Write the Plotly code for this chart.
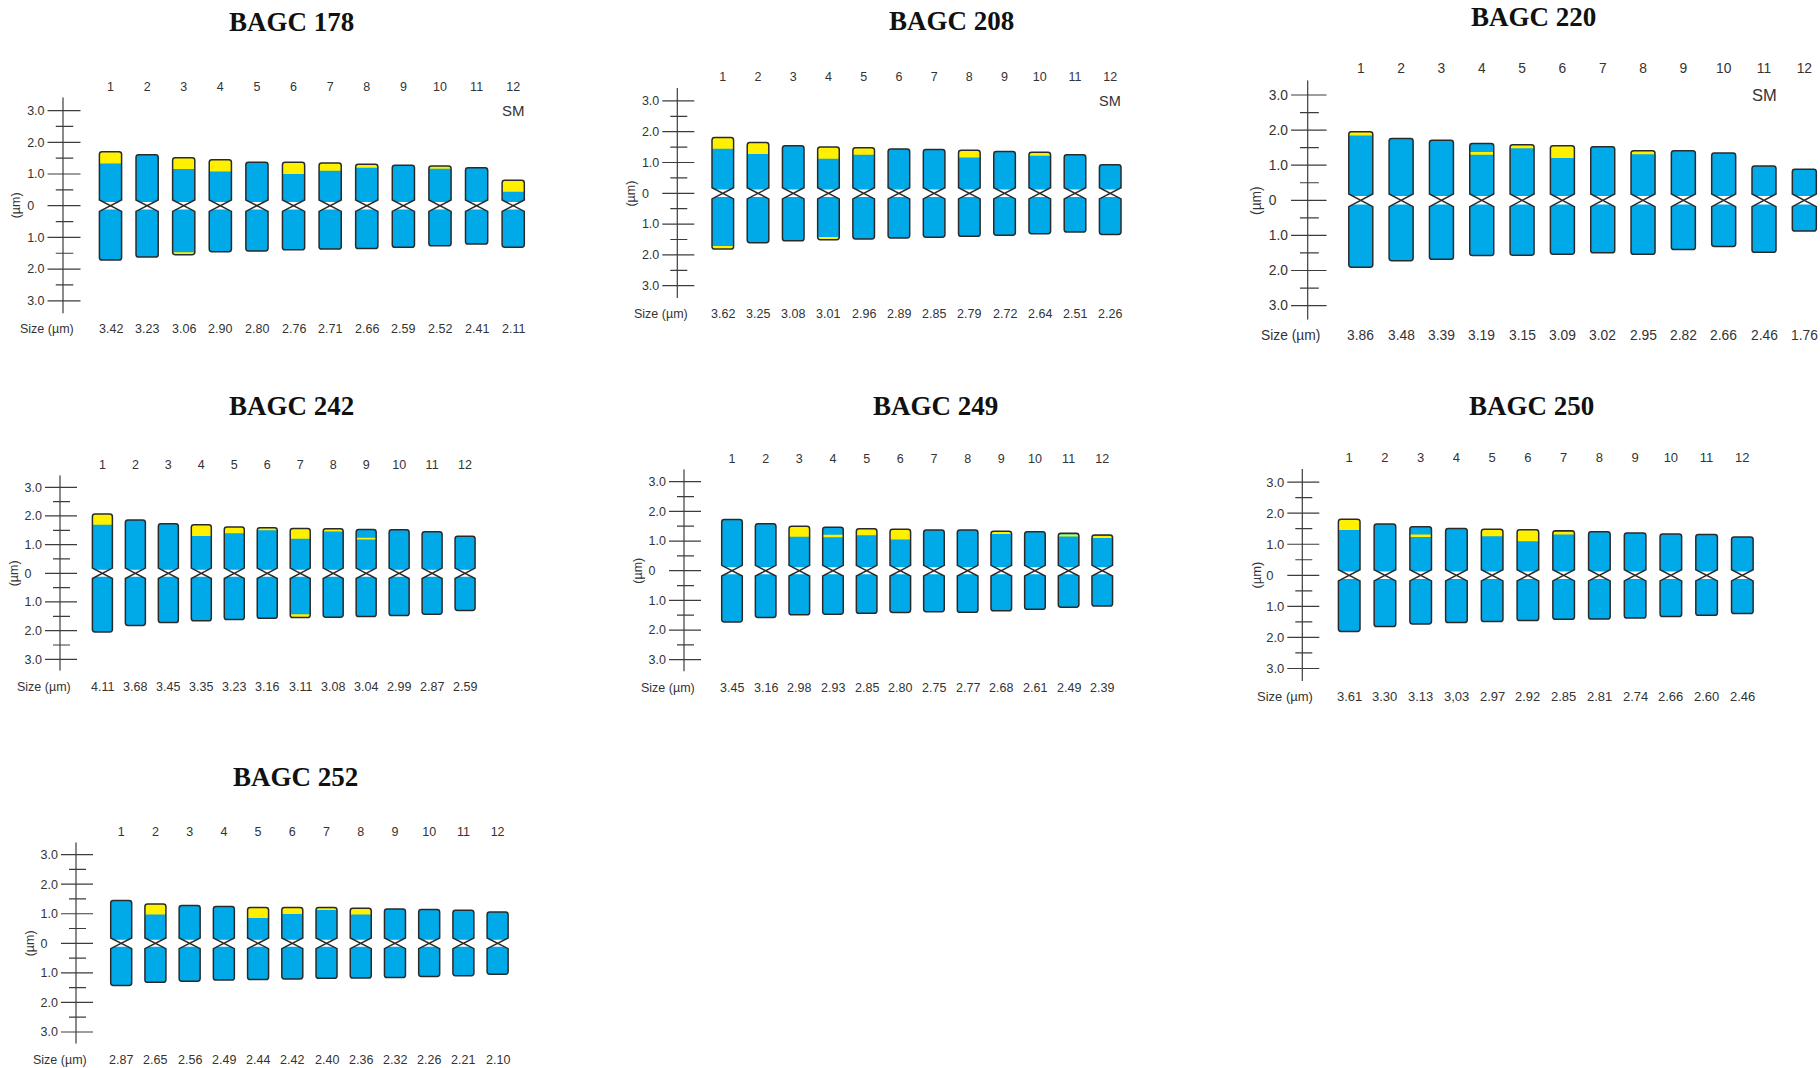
import plotly.graph_objects as go

W, H = 1820, 1068

# ---------------- karyotype data (µm) ----------------
# size labels, measured short-arm (p) and long-arm (q) lengths,
# and CMA+ bands as (chromosome, arm, distance from telomere to band start, to band end)

SIZE_178 = ["3.42", "3.23", "3.06", "2.90", "2.80", "2.76", "2.71", "2.66", "2.59", "2.52", "2.41", "2.11"]
P_178 = [1.68, 1.58, 1.49, 1.43, 1.36, 1.35, 1.33, 1.29, 1.25, 1.24, 1.18, 0.79]
Q_178 = [1.69, 1.59, 1.52, 1.43, 1.41, 1.37, 1.35, 1.33, 1.28, 1.25, 1.19, 1.29]
BANDS_178 = [(1, "p", 0, 0.37), (3, "p", 0, 0.36), (3, "q", 0, 0.08), (4, "p", 0, 0.37),
             (6, "p", 0, 0.37), (7, "p", 0, 0.24), (8, "p", 0, 0.11), (10, "p", 0, 0.09),
             (12, "p", 0, 0.36)]
SM_178 = 12

SIZE_208 = ["3.62", "3.25", "3.08", "3.01", "2.96", "2.89", "2.85", "2.79", "2.72", "2.64", "2.51", "2.26"]
P_208 = [1.79, 1.63, 1.52, 1.50, 1.44, 1.42, 1.41, 1.38, 1.33, 1.32, 1.24, 0.90]
Q_208 = [1.79, 1.59, 1.52, 1.50, 1.44, 1.43, 1.41, 1.38, 1.33, 1.30, 1.25, 1.30]
BANDS_208 = [(1, "p", 0, 0.36), (1, "q", 0, 0.10), (2, "p", 0, 0.37), (4, "p", 0, 0.38),
             (4, "q", 0, 0.09), (5, "p", 0, 0.23), (8, "p", 0, 0.23), (10, "p", 0, 0.11)]
SM_208 = 12

SIZE_220 = ["3.86", "3.48", "3.39", "3.19", "3.15", "3.09", "3.02", "2.95", "2.82", "2.66", "2.46", "1.76"]
P_220 = [1.94, 1.74, 1.69, 1.60, 1.57, 1.53, 1.50, 1.41, 1.40, 1.32, 0.96, 0.87]
Q_220 = [1.89, 1.70, 1.66, 1.56, 1.55, 1.51, 1.47, 1.54, 1.39, 1.29, 1.45, 0.86]
BANDS_220 = [(1, "p", 0, 0.11), (4, "p", 0.24, 0.32), (5, "p", 0, 0.10), (6, "p", 0, 0.35),
             (8, "p", 0, 0.10)]
SM_220 = 11

SIZE_242 = ["4.11", "3.68", "3.45", "3.35", "3.23", "3.16", "3.11", "3.08", "3.04", "2.99", "2.87", "2.59"]
P_242 = [2.03, 1.84, 1.71, 1.69, 1.59, 1.57, 1.55, 1.53, 1.51, 1.49, 1.42, 0.99]
Q_242 = [2.01, 1.80, 1.70, 1.65, 1.59, 1.55, 1.53, 1.51, 1.49, 1.45, 1.40, 0.99]
BANDS_242 = [(1, "p", 0, 0.37), (4, "p", 0, 0.39), (5, "p", 0, 0.22), (6, "p", 0, 0.09),
             (7, "p", 0, 0.36), (7, "q", 0, 0.12), (8, "p", 0, 0.09), (9, "p", 0.29, 0.35)]

SIZE_249 = ["3.45", "3.16", "2.98", "2.93", "2.85", "2.80", "2.75", "2.77", "2.68", "2.61", "2.49", "2.39"]
P_249 = [1.70, 1.56, 1.47, 1.44, 1.40, 1.37, 1.37, 1.35, 1.31, 1.28, 1.24, 1.18]
Q_249 = [1.70, 1.55, 1.46, 1.44, 1.42, 1.38, 1.38, 1.38, 1.33, 1.27, 1.21, 1.17]
BANDS_249 = [(3, "p", 0, 0.35), (4, "p", 0.25, 0.34), (5, "p", 0, 0.22), (6, "p", 0, 0.34),
             (9, "p", 0, 0.09), (11, "p", 0.04, 0.11), (12, "p", 0.03, 0.10)]

SIZE_250 = ["3.61", "3.30", "3.13", "3,03", "2.97", "2.92", "2.85", "2.81", "2.74", "2.66", "2.60", "2.46"]
P_250 = [1.78, 1.62, 1.51, 1.48, 1.46, 1.45, 1.43, 1.37, 1.33, 1.30, 1.28, 1.20]
Q_250 = [1.78, 1.62, 1.51, 1.49, 1.47, 1.44, 1.41, 1.38, 1.34, 1.30, 1.26, 1.20]
BANDS_250 = [(1, "p", 0, 0.35), (3, "p", 0.25, 0.33), (5, "p", 0, 0.22), (6, "p", 0, 0.37),
             (7, "p", 0.04, 0.12)]

SIZE_252 = ["2.87", "2.65", "2.56", "2.49", "2.44", "2.42", "2.40", "2.36", "2.32", "2.26", "2.21", "2.10"]
P_252 = [1.43, 1.32, 1.26, 1.23, 1.21, 1.21, 1.21, 1.17, 1.15, 1.10, 1.10, 1.04]
Q_252 = [1.41, 1.31, 1.26, 1.23, 1.22, 1.20, 1.18, 1.16, 1.15, 1.08, 1.08, 1.03]
BANDS_252 = [(2, "p", 0, 0.36), (5, "p", 0, 0.36), (6, "p", 0, 0.22), (7, "p", 0, 0.09),
             (8, "p", 0, 0.21)]

# ---------------- styling ----------------
BLUE = "#00a9e8"
YELLOW = "#fff000"
EDGE = "#2a2a2a"
RULE = "#3c3c3c"
TEXT = "#333333"
SANS = "Liberation Sans, Arial, sans-serif"
SERIF = "Liberation Serif, Times New Roman, serif"

RULER_TOP, RULER_BOT = 3.42, -3.40
CEN, CEN_FILL = 0.18, 0.12          # centromere constriction (µm)
MAJOR = [3, 2, 1, 0, -1, -2, -3]
MINOR = [2.5, 1.5, 0.5, -0.5, -1.5, -2.5]
FIG_SP = "\u2007"                    # digit-width space
PUNC_SP = "\u2008"                   # period-width space

# panel placement in pixels: first-chromosome centre, spacing, zero line, px per µm,
# ruler x, half chromosome width, horizontal stretch of ruler furniture, title centre, font sizes
PANELS = [
    dict(title="BAGC 178", size=SIZE_178, p=P_178, q=Q_178, bands=BANDS_178, sm=SM_178,
         c1=110.5, step=36.61, zero=205.7, unit=31.7, ruler=63.0, hw=11.1, xk=1.03,
         tpos=(291, 22), fs=12.5, sm_fs=15),
    dict(title="BAGC 208", size=SIZE_208, p=P_208, q=Q_208, bands=BANDS_208, sm=SM_208,
         c1=722.8, step=35.22, zero=193.3, unit=30.8, ruler=677.3, hw=10.8, xk=1.0,
         tpos=(951, 21), fs=12.5, sm_fs=14.5),
    dict(title="BAGC 220", size=SIZE_220, p=P_220, q=Q_220, bands=BANDS_220, sm=SM_220,
         c1=1360.8, step=40.32, zero=200.3, unit=35.1, ruler=1307.7, hw=12.0, xk=1.11,
         tpos=(1533, 17), fs=13.8, sm_fs=16.5),
    dict(title="BAGC 242", size=SIZE_242, p=P_242, q=Q_242, bands=BANDS_242, sm=None,
         c1=102.4, step=32.97, zero=573.3, unit=28.67, ruler=60, hw=10.0, xk=1.0,
         tpos=(291, 406), fs=12.5, sm_fs=15),
    dict(title="BAGC 249", size=SIZE_249, p=P_249, q=Q_249, bands=BANDS_249, sm=None,
         c1=732.0, step=33.66, zero=570.7, unit=29.67, ruler=684, hw=10.3, xk=1.0,
         tpos=(936, 406), fs=12.5, sm_fs=15),
    dict(title="BAGC 250", size=SIZE_250, p=P_250, q=Q_250, bands=BANDS_250, sm=None,
         c1=1349.2, step=35.74, zero=575.3, unit=31.07, ruler=1302.3, hw=10.8, xk=1.0,
         tpos=(1531, 406), fs=13, sm_fs=15),
    dict(title="BAGC 252", size=SIZE_252, p=P_252, q=Q_252, bands=BANDS_252, sm=None,
         c1=121.2, step=34.22, zero=943.3, unit=29.56, ruler=76, hw=10.5, xk=1.0,
         tpos=(295, 777), fs=12.5, sm_fs=15),
]


def f(v):
    return f"{v:.4f}"


def box_path(L, R, lo, hi, rx, ry, round_top, round_bot):
    d = f"M{f(L)},{f(lo + ry if round_bot else lo)} L{f(L)},{f(hi - ry if round_top else hi)}"
    if round_top:
        d += f" Q{f(L)},{f(hi)} {f(L + rx)},{f(hi)} L{f(R - rx)},{f(hi)} Q{f(R)},{f(hi)} {f(R)},{f(hi - ry)}"
    else:
        d += f" L{f(R)},{f(hi)}"
    d += f" L{f(R)},{f(lo + ry if round_bot else lo)}"
    if round_bot:
        d += f" Q{f(R)},{f(lo)} {f(R - rx)},{f(lo)} L{f(L + rx)},{f(lo)} Q{f(L)},{f(lo)} {f(L)},{f(lo + ry)}"
    else:
        d += f" L{f(L)},{f(lo)}"
    return d + " Z"


fig = go.Figure()
shapes, annotations = [], []

for k, pn in enumerate(PANELS, start=1):
    sfx = "" if k == 1 else str(k)
    xref, yref = "x" + sfx, "y" + sfx
    s, unit, c1, xk = pn["step"], pn["unit"], pn["c1"], pn["xk"]
    n = len(pn["size"])

    def dx(px):
        return 1 + (px - c1) / s

    left_px = pn["ruler"] - 16 * xk
    right_px = min(c1 + (n - 1) * s + 26, W - 1)
    top_px = pn["zero"] - RULER_TOP * unit
    bot_px = pn["zero"] - RULER_BOT * unit
    label_y = 1 - (bot_px + 16) / H          # paper y of the size row

    tick_font = dict(family=SANS, size=pn["fs"], color=TEXT)
    fig.layout["xaxis" + sfx] = dict(
        domain=[left_px / W, right_px / W], range=[dx(left_px), dx(right_px)],
        anchor=yref, side="top", tickmode="array", tickvals=list(range(1, n + 1)),
        ticktext=[str(i) for i in range(1, n + 1)], ticks="", ticklabelstandoff=3,
        showgrid=False, zeroline=False, showline=False, tickfont=tick_font, fixedrange=True)
    fig.layout["yaxis" + sfx] = dict(
        domain=[1 - bot_px / H, 1 - top_px / H], range=[RULER_BOT, RULER_TOP],
        anchor=xref, tickmode="array", tickvals=MAJOR,
        ticktext=["0" + PUNC_SP + FIG_SP if v == 0 else f"{abs(v):.1f}" for v in MAJOR],
        ticks="", ticklabelstandoff=1, showgrid=False, zeroline=False, showline=False,
        tickfont=dict(family=SANS, size=pn["fs"], color=TEXT), fixedrange=True)

    # ruler with crossing major and minor ticks
    rx0 = dx(pn["ruler"])
    xs, ys = [rx0, rx0, None], [RULER_TOP, RULER_BOT, None]
    for v in MAJOR:
        xs += [dx(pn["ruler"] - 15 * xk), dx(pn["ruler"] + 17 * xk), None]
        ys += [v, v, None]
    for v in MINOR:
        xs += [dx(pn["ruler"] - 7 * xk), dx(pn["ruler"] + 10 * xk), None]
        ys += [v, v, None]
    fig.add_trace(go.Scatter(x=xs, y=ys, mode="lines", line=dict(color=RULE, width=1.2),
                             xaxis=xref, yaxis=yref, hoverinfo="skip", showlegend=False))

    hw = pn["hw"] / s
    rx, ry = 2.6 / s, 2.6 / unit
    for i in range(n):
        size = float(pn["size"][i].replace(",", "."))
        P, Q = pn["p"][i], pn["q"][i]
        p = size * P / (P + Q)
        q = size - p
        xc = i + 1
        L, R = xc - hw, xc + hw
        inset = hw * (CEN - CEN_FILL) / CEN

        upper = (f"M{f(L + inset)},{f(CEN_FILL)} L{f(L)},{f(CEN)} L{f(L)},{f(p - ry)} "
                 f"Q{f(L)},{f(p)} {f(L + rx)},{f(p)} L{f(R - rx)},{f(p)} Q{f(R)},{f(p)} {f(R)},{f(p - ry)} "
                 f"L{f(R)},{f(CEN)} L{f(R - inset)},{f(CEN_FILL)} Z")
        lower = (f"M{f(L + inset)},{f(-CEN_FILL)} L{f(L)},{f(-CEN)} L{f(L)},{f(-q + ry)} "
                 f"Q{f(L)},{f(-q)} {f(L + rx)},{f(-q)} L{f(R - rx)},{f(-q)} Q{f(R)},{f(-q)} {f(R)},{f(-q + ry)} "
                 f"L{f(R)},{f(-CEN)} L{f(R - inset)},{f(-CEN_FILL)} Z")
        shapes.append(dict(type="path", path=upper + " " + lower, xref=xref, yref=yref,
                           fillcolor=BLUE, line=dict(width=0), layer="above"))

        for (chrom, arm, d0, d1) in pn["bands"]:
            if chrom != xc:
                continue
            if arm == "p":
                lo, hi = p - d1, p - d0
                path = box_path(L, R, lo, hi, rx, ry, d0 == 0, False)
            else:
                lo, hi = -q + d0, -q + d1
                path = box_path(L, R, lo, hi, rx, ry, False, d0 == 0)
            shapes.append(dict(type="path", path=path, xref=xref, yref=yref,
                               fillcolor=YELLOW, line=dict(width=0), layer="above"))

        outline = (f"M{f(L)},{f(CEN)} L{f(L)},{f(p - ry)} Q{f(L)},{f(p)} {f(L + rx)},{f(p)} "
                   f"L{f(R - rx)},{f(p)} Q{f(R)},{f(p)} {f(R)},{f(p - ry)} L{f(R)},{f(CEN)} "
                   f"L{f(L)},{f(-CEN)} L{f(L)},{f(-q + ry)} Q{f(L)},{f(-q)} {f(L + rx)},{f(-q)} "
                   f"L{f(R - rx)},{f(-q)} Q{f(R)},{f(-q)} {f(R)},{f(-q + ry)} L{f(R)},{f(-CEN)} Z")
        shapes.append(dict(type="path", path=outline, xref=xref, yref=yref,
                           fillcolor="rgba(0,0,0,0)", line=dict(color=EDGE, width=1.5), layer="above"))

        # size of each chromosome under its slot
        annotations.append(dict(x=xc, y=label_y, xref=xref, yref="paper",
                                text=pn["size"][i], showarrow=False, font=tick_font,
                                xanchor="center", yanchor="middle"))

    annotations.append(dict(x=(pn["ruler"] + 13 * xk) / W, y=label_y, xref="paper", yref="paper",
                            text="Size (µm)", showarrow=False,
                            font=dict(family=SANS, size=pn["fs"], color=TEXT),
                            xanchor="right", yanchor="middle"))
    annotations.append(dict(x=(pn["ruler"] - 46 * xk) / W, y=1 - pn["zero"] / H, xref="paper", yref="paper",
                            text="(µm)", textangle=-90, showarrow=False,
                            font=dict(family=SANS, size=pn["fs"], color=TEXT),
                            xanchor="center", yanchor="middle"))
    if pn["sm"] is not None:
        annotations.append(dict(x=pn["sm"], y=3.0, xref=xref, yref=yref, text="SM", showarrow=False,
                                font=dict(family=SANS, size=pn["sm_fs"], color=TEXT),
                                xanchor="center", yanchor="middle"))
    annotations.append(dict(x=pn["tpos"][0] / W, y=1 - pn["tpos"][1] / H, xref="paper", yref="paper",
                            text="<b>" + pn["title"] + "</b>", showarrow=False,
                            font=dict(family=SERIF, size=27, color="#111111"),
                            xanchor="center", yanchor="middle"))

fig.update_layout(width=W, height=H, margin=dict(l=0, r=0, t=0, b=0),
                  paper_bgcolor="white", plot_bgcolor="white",
                  shapes=shapes, annotations=annotations, showlegend=False)

fig.write_html("out.html", config={"displayModeBar": False})
